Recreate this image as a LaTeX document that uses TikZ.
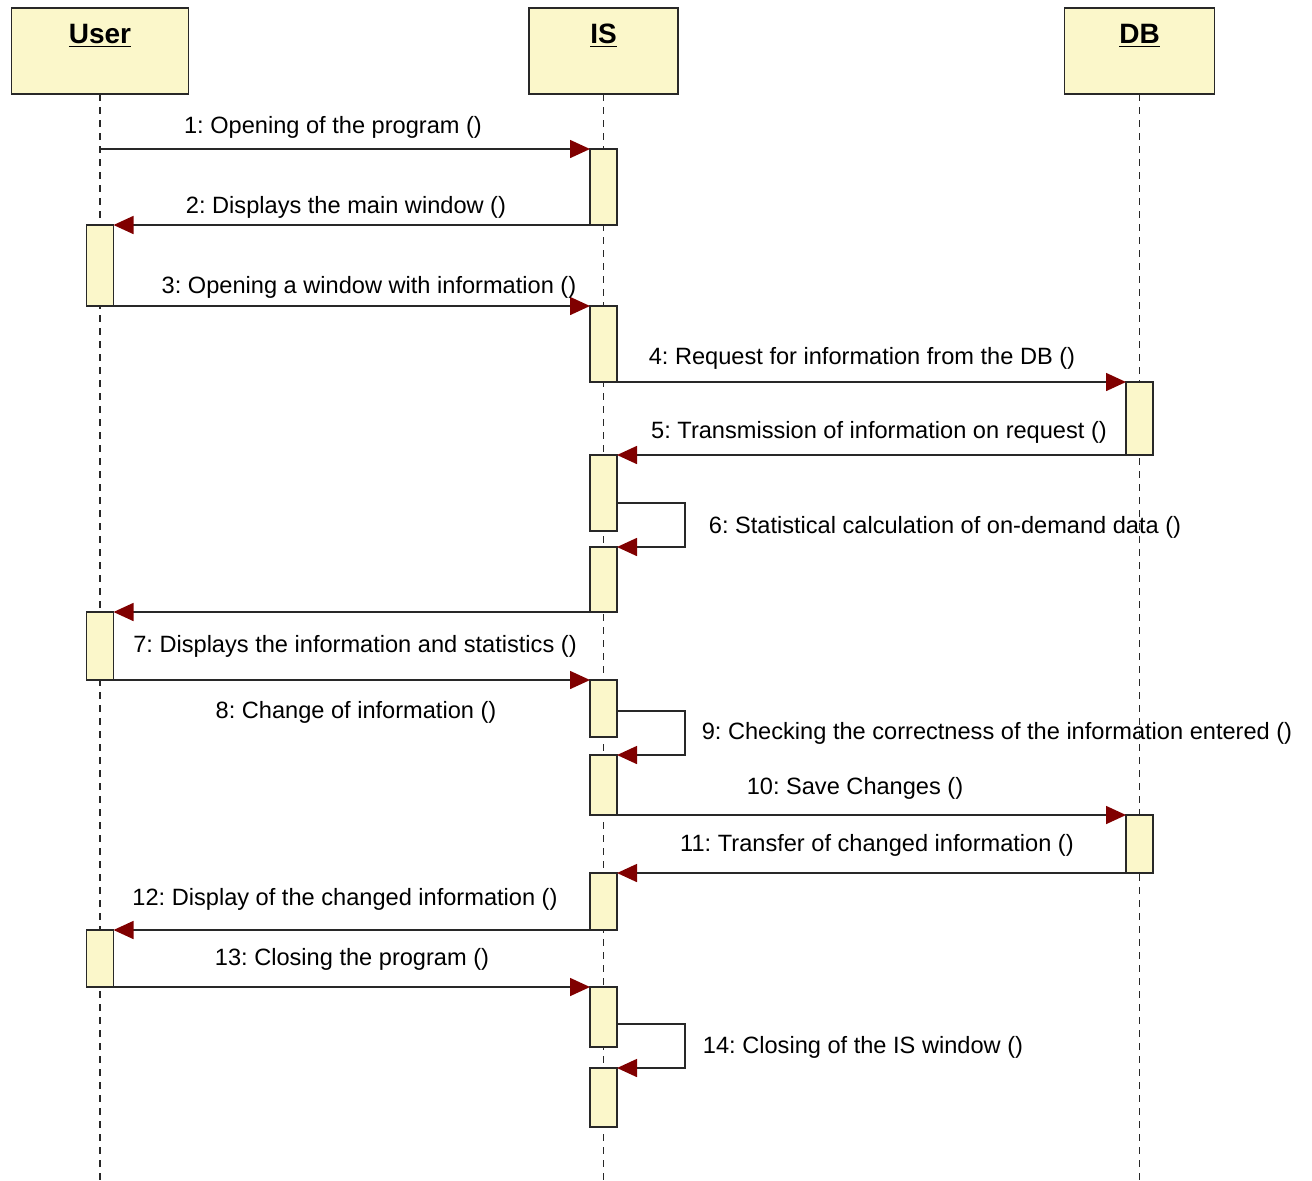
\documentclass[tikz,border=0pt]{standalone}
\usepackage{fontspec}
\setmainfont{Liberation Sans}
\usetikzlibrary{arrows.meta,positioning}
\definecolor{boxfill}{RGB}{251,247,202}
\definecolor{tipred}{RGB}{128,0,0}
\definecolor{inkgray}{RGB}{40,40,40}
\frenchspacing
\tikzset{every picture/.style={line width=0.8pt}}
\tikzset{
	headbox/.style={draw=inkgray, fill=boxfill, inner sep=0pt, outer sep=0pt, minimum height=43pt, minimum width=#1},
	headtext/.style={font=\fontsize{14}{16}\selectfont\bfseries},
	actbox/.style={draw=inkgray, fill=boxfill, inner sep=0pt, outer sep=0pt, minimum width=13.5pt, minimum height=#1},
	lifeline/.style={draw=inkgray, line width=0.9pt, dash pattern=on 3.5pt off 3pt},
	msg/.style={draw=inkgray, -{Triangle[length=10pt,width=9pt,color=tipred]}},
	msglabel/.style={font=\fontsize{11.8}{14}\selectfont, inner sep=1pt}
}

\begin{document}
\begin{tikzpicture}[x=0.5pt,y=0.5pt,yscale=-1,xscale=1]
		\useasboundingbox (0,0) rectangle (1312,1180);
		
		%Shape: Header boxes
		\node[headbox=88.5pt] (usrhead) at (100,51) {};
		\node[headbox=74.5pt] (ishead) at (603.5,51) {};
		\node[headbox=75pt] (dbhead) at (1139.5,51) {};
		% Text Node
		\node[headtext] (usrname) at (100,36) {\underline{User}};
		\node[headtext] (isname) at (603.5,36) {\underline{IS}};
		\node[headtext] (dbname) at (1139.5,36) {\underline{DB}};
		
		%Straight Lines: lifelines
		\coordinate (usrend) at (100,1180);
		\coordinate (isend) at (603.5,1180);
		\coordinate (dbend) at (1139.5,1180);
		\draw[lifeline] (usrhead.south) -- (usrend);
		\draw[lifeline] (ishead.south) -- (isend);
		\draw[lifeline] (dbhead.south) -- (dbend);
		
		%Shape: Activation boxes, User
		\node[actbox=40.5pt] (usr1) at (100,265.5) {};
		\node[actbox=34pt] (usr2) at (100,646) {};
		\node[actbox=28.5pt] (usr3) at (100,958.5) {};
		%Shape: Activation boxes, IS
		\node[actbox=38pt] (is1) at (603.5,187) {};
		\node[actbox=38pt] (is2) at (603.5,344) {};
		\node[actbox=38pt] (is3) at (603.5,493) {};
		\node[actbox=32.5pt] (is4) at (603.5,579.5) {};
		\node[actbox=28.5pt] (is5) at (603.5,708.5) {};
		\node[actbox=30pt] (is6) at (603.5,785) {};
		\node[actbox=28.5pt] (is7) at (603.5,901.5) {};
		\node[actbox=30pt] (is8) at (603.5,1017) {};
		\node[actbox=29.5pt] (is9) at (603.5,1097.5) {};
		%Shape: Activation boxes, DB
		\node[actbox=36.5pt] (db1) at (1139.5,418.5) {};
		\node[actbox=29pt] (db2) at (1139.5,844) {};
		
		%Straight Lines: messages
		\coordinate (m1start) at (100,149);
		\draw[msg] (m1start) -- (is1.north west);
		\draw[msg] (is1.south west) -- (usr1.north east);
		\draw[msg] (usr1.south east) -- (is2.north west);
		\draw[msg] (is2.south east) -- (db1.north west);
		\draw[msg] (db1.south west) -- (is3.north east);
		\coordinate (loop6) at (685,503);
		\draw[msg] (is3.east |- loop6) -- (loop6) -- (loop6 |- is4.north) -- (is4.north east);
		\draw[msg] (is4.south west) -- (usr2.north east);
		\draw[msg] (usr2.south east) -- (is5.north west);
		\coordinate (loop9) at (685,711);
		\draw[msg] (is5.east |- loop9) -- (loop9) -- (loop9 |- is6.north) -- (is6.north east);
		\draw[msg] (is6.south east) -- (db2.north west);
		\draw[msg] (db2.south west) -- (is7.north east);
		\draw[msg] (is7.south west) -- (usr3.north east);
		\draw[msg] (usr3.south east) -- (is8.north west);
		\coordinate (loop14) at (685,1024);
		\draw[msg] (is8.east |- loop14) -- (loop14) -- (loop14 |- is9.north) -- (is9.north east);
		
		% Text Node
		\node[msglabel] (t1) at (333,127) {1: Opening of the program ()};
		\node[msglabel] (t2) at (346,207) {2: Displays the main window ()};
		\node[msglabel] (t3) at (369,287) {3: Opening a window with information ()};
		\node[msglabel] (t4) at (862,358) {4: Request for information from the DB ()};
		\node[msglabel] (t5) at (879,432) {5: Transmission of information on request ()};
		\node[msglabel] (t6) at (945,527) {6: Statistical calculation of on-demand data ()};
		\node[msglabel] (t7) at (355,646) {7: Displays the information and statistics ()};
		\node[msglabel] (t8) at (356,712) {8: Change of information ()};
		\node[msglabel] (t9) at (997,733) {9: Checking the correctness of the information entered ()};
		\node[msglabel] (t10) at (855,788) {10: Save Changes ()};
		\node[msglabel] (t11) at (877,845) {11: Transfer of changed information ()};
		\node[msglabel] (t12) at (345,899) {12: Display of the changed information ()};
		\node[msglabel] (t13) at (352,959) {13: Closing the program ()};
		\node[msglabel] (t14) at (863,1047) {14: Closing of the IS window ()};
		
\end{tikzpicture}
\end{document}
